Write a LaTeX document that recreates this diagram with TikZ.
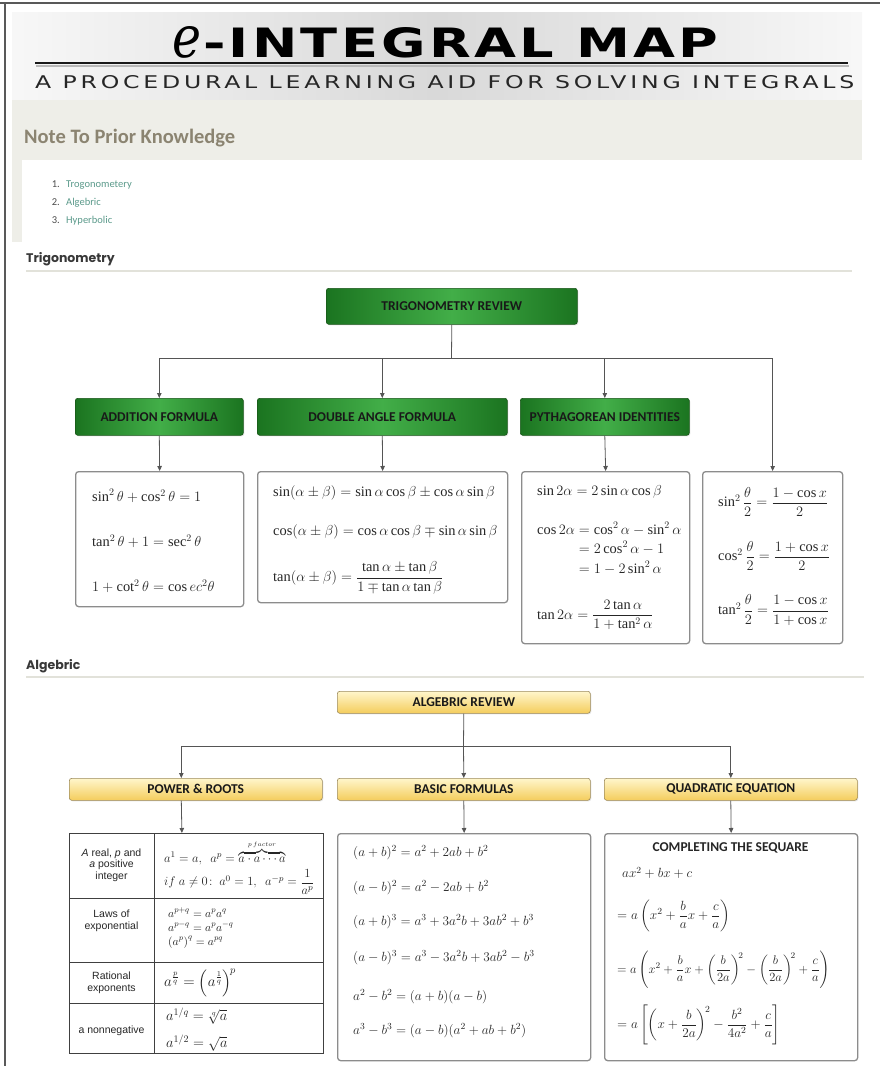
\RequirePackage{fix-cm}
\documentclass[tikz,border=0pt]{standalone}
\usepackage{amsmath,amssymb}
\usepackage{graphicx}
\usepackage{fontspec}
\setmainfont{Liberation Serif}
\newfontfamily\headfont{DejaVu Sans}
\newfontfamily\boxfont{Carlito}
\newfontfamily\secfont{Poppins}
\newfontfamily\tabfont{Liberation Sans}
\usetikzlibrary{arrows.meta,calc,positioning,shadows}

\definecolor{grdark}{HTML}{1B7420}
\definecolor{grmid}{HTML}{42AE48}
\definecolor{grline}{HTML}{185418}
\definecolor{yltop}{HTML}{FFF6CC}
\definecolor{ylbot}{HTML}{F4CD5C}
\definecolor{ylline}{HTML}{9C8A5C}
\definecolor{notegray}{HTML}{8B8471}
\definecolor{listgreen}{HTML}{5B9A8B}
\definecolor{bannergray}{HTML}{EEEEE8}
\definecolor{rulegray}{HTML}{E2E2DA}
\definecolor{boxgray}{HTML}{8C8C8C}
\definecolor{linkgray}{HTML}{555555}

\newcommand\fsz{\fontsize{14.4}{17}\selectfont}
\newcommand\tsz{\fontsize{11.5}{14}\selectfont}
\newcommand\bsz{\fontsize{13.3}{15}\selectfont}

\tikzset{
  revgreen/.style={draw=grline, line width=0.6pt, rounded corners=2.5pt,
    left color=grdark, right color=grdark, middle color=grmid,
    text=black!90, font=\boxfont\bfseries\fontsize{13.5}{15}\selectfont,
    inner sep=2pt, anchor=north west,
    drop shadow={opacity=0.2, shadow xshift=1pt, shadow yshift=-1pt}},
  revyellow/.style={draw=ylline, line width=0.6pt, rounded corners=2.5pt,
    top color=yltop, bottom color=ylbot,
    text=black!90, font=\boxfont\bfseries\fontsize{13.5}{15}\selectfont,
    inner sep=2pt, anchor=north west, minimum height=22pt,
    drop shadow={opacity=0.2, shadow xshift=1pt, shadow yshift=-1pt}},
  formbox/.style={draw=boxgray, line width=1.3pt, rounded corners=3pt,
    fill=white, anchor=north west, inner sep=0pt},
  formula/.style={anchor=west, inner sep=0pt, text=black!85, font=\fsz},
  link/.style={draw=linkgray, line width=0.8pt},
  linkarr/.style={link, -{Triangle[length=5pt,width=4.5pt]}},
  sechead/.style={anchor=base west, inner sep=0pt, text=black!78,
    font=\secfont\bfseries\fontsize{12.5}{15}\selectfont},
  secrule/.style={draw=rulegray, line width=2.5pt},
  tablabel/.style={align=center, inner sep=0pt, text=black!85,
    font=\tabfont\fontsize{10.5}{11.5}\selectfont},
  listnum/.style={anchor=base east, inner sep=0pt, text=black!70,
    font=\boxfont\fontsize{10.5}{12}\selectfont},
  listitem/.style={anchor=base west, inner sep=0pt, text=listgreen,
    font=\boxfont\fontsize{10.5}{12}\selectfont}
}

\begin{document}
\begin{tikzpicture}[x=1pt,y=-1pt]
\useasboundingbox (0,0) rectangle (880,1066);
%%%%% HEADER %%%%%
\draw[line width=2pt, black!65] (0,3) -- (880,3);
\draw[line width=2pt, black!65] (5,3) -- (5,1066);
\shade[left color=gray!6, right color=gray!6, middle color=gray!30] (12,12) rectangle (862,100);
\fill[bannergray] (12,100) rectangle (862,160);
\fill[bannergray] (12,160) rectangle (22,242);
\fill[white, rounded corners=5pt] (22,163) rectangle (880,320);

\node[anchor=base west, inner sep=0pt] (ttl) at (203,57)
  {\resizebox{515pt}{30pt}{\headfont\bfseries\addfontfeature{LetterSpace=6}-INTEGRAL MAP}};
\node[anchor=base east, inner sep=0pt] (ettl) at ([xshift=-1pt]ttl.base west)
  {\resizebox{29pt}{31pt}{\headfont ℯ}};
\draw[line width=2pt, gray!55] (36,65.5) -- (849,65.5);
\draw[line width=2.5pt, black!90] (35,63) -- (848,63);
\node[anchor=base west, inner sep=0pt, text=black!85] (subttl) at (35,88)
  {\resizebox{819pt}{13pt}{\headfont\addfontfeature{LetterSpace=16}A PROCEDURAL LEARNING AID FOR SOLVING INTEGRALS}};

\node[anchor=base west, inner sep=0pt, text=notegray, font=\boxfont\bfseries\fontsize{20.5}{24}\selectfont]
  (notehd) at (24,143) {Note To Prior Knowledge};
\node[listnum] (num1) at (60,187) {1.};
\node[listnum] (num2) at (60,205) {2.};
\node[listnum] (num3) at (60,223) {3.};
\node[listitem] (item1) at (66,187) {Trogonometery};
\node[listitem] (item2) at (66,205) {Algebric};
\node[listitem] (item3) at (66,223) {Hyperbolic};

%%%%% TRIGONOMETRY %%%%%
\node[sechead] (trighd) at (26,262) {Trigonometry};
\draw[secrule] (26,271) -- (852,271);

\node[revgreen, minimum width=251pt, minimum height=36pt] (trigrev) at (326,288) {TRIGONOMETRY REVIEW};
\node[revgreen, minimum width=168pt, minimum height=37pt] (addf) at (75,398) {ADDITION FORMULA};
\node[revgreen, minimum width=250pt, minimum height=37pt] (dblf) at (257,398) {DOUBLE ANGLE FORMULA};
\node[revgreen, minimum width=169pt, minimum height=37pt] (pyth) at (520,398) {PYTHAGOREAN IDENTITIES};

\node[formbox, minimum width=168pt, minimum height=135pt] (tbox1) at (75,471) {};
\node[formbox, minimum width=250pt, minimum height=131pt] (tbox2) at (257,471) {};
\node[formbox, minimum width=168pt, minimum height=172pt] (tbox3) at (521,471) {};
\node[formbox, minimum width=140pt, minimum height=172pt] (tbox4) at (702,471) {};

\coordinate (tsplit) at (451.5,358);
\draw[link] (trigrev.south) -- (tsplit);
\draw[linkarr] (tsplit) -| (addf.north);
\draw[linkarr] (tsplit) -| (dblf.north);
\draw[linkarr] (tsplit) -| (pyth.north);
\draw[linkarr] (tsplit) -| (tbox4.north);
\draw[linkarr] (addf.south) -- (tbox1.north);
\draw[linkarr] (dblf.south) -- (tbox2.north);
\draw[linkarr] (pyth.south) -- (tbox3.north);

% formulas in the trig boxes
\node[formula] (f11) at (92,496) {$\sin^2\theta+\cos^2\theta=1$};
\node[formula] (f12) at (92,541) {$\tan^2\theta+1=\sec^2\theta$};
\node[formula] (f13) at (92,586) {$1+\cot^2\theta=\cos ec^2\theta$};

\node[formula] (f21) at (273,493) {$\sin(\alpha\pm\beta)=\sin\alpha\cos\beta\pm\cos\alpha\sin\beta$};
\node[formula] (f22) at (273,532) {$\cos(\alpha\pm\beta)=\cos\alpha\cos\beta\mp\sin\alpha\sin\beta$};
\node[formula] (f23) at (273,578) {$\tan(\alpha\pm\beta)=\dfrac{\tan\alpha\pm\tan\beta}{1\mp\tan\alpha\tan\beta}$};

\node[formula] (f31) at (537,492) {$\sin2\alpha=2\sin\alpha\cos\beta$};
\node[formula] (f32) at (537,550) {$\begin{aligned}\cos2\alpha&=\cos^2\alpha-\sin^2\alpha\\[-2pt]&=2\cos^2\alpha-1\\[-2pt]&=1-2\sin^2\alpha\end{aligned}$};
\node[formula] (f33) at (537,615) {$\tan2\alpha=\dfrac{2\tan\alpha}{1+\tan^2\alpha}$};

\node[formula] (f41) at (718,502) {$\sin^2\dfrac{\theta}{2}=\dfrac{1-\cos x}{2}$};
\node[formula] (f42) at (718,556) {$\cos^2\dfrac{\theta}{2}=\dfrac{1+\cos x}{2}$};
\node[formula] (f43) at (718,610) {$\tan^2\dfrac{\theta}{2}=\dfrac{1-\cos x}{1+\cos x}$};

%%%%% ALGEBRIC %%%%%
\node[sechead] (alghd) at (26,669) {Algebric};
\draw[secrule] (26,677) -- (864,677);

\node[revyellow, minimum width=253pt] (algrev) at (337,691) {ALGEBRIC REVIEW};
\node[revyellow, minimum width=253pt] (powr) at (69,778) {POWER \& ROOTS};
\node[revyellow, minimum width=253pt] (basf) at (337,778) {BASIC FORMULAS};
\node[revyellow, minimum width=253pt] (quad) at (604,778) {QUADRATIC EQUATION};

\node[draw=black!75, line width=0.8pt, anchor=north west, inner sep=0pt, minimum width=254pt, minimum height=220pt] (powtab) at (69,833) {};
\node[formbox, minimum width=253pt, minimum height=227pt] (basbox) at (337,833) {};
\node[formbox, minimum width=253pt, minimum height=227pt] (quadbox) at (604,833) {};

\coordinate (asplit) at (463.5,746);
\draw[link] (algrev.south) -- (asplit);
\draw[linkarr] (asplit) -| ([xshift=-14.5pt]powr.north);
\draw[linkarr] (asplit) -- (basf.north);
\draw[linkarr] (asplit) -| (quad.north);
\draw[linkarr] ([xshift=-14.5pt]powr.south) -- ([xshift=-14.5pt]powtab.north);
\draw[linkarr] (basf.south) -- (basbox.north);
\draw[linkarr] (quad.south) -- (quadbox.north);

% power and roots table
\draw[black!75, line width=0.8pt] (154,833) -- (154,1053);
\draw[black!75, line width=0.8pt] (69,898) -- (323,898);
\draw[black!75, line width=0.8pt] (69,962) -- (323,962);
\draw[black!75, line width=0.8pt] (69,1003) -- (323,1003);

\node[tablabel] (lab1) at (111.5,865) {\textit{A} real, \textit{p} and\\\textit{a} positive\\integer};
\node[tablabel] (lab2) at (111.5,921) {Laws of\\exponential};
\node[tablabel] (lab3) at (111.5,983) {Rational\\exponents};
\node[tablabel] (lab4) at (111.5,1031) {a nonnegative};

\node[formula, font=\fontsize{12.5}{14}\selectfont] (p11) at (164,853) {$a^1=a,\ \ a^p=\overbrace{a\cdot a\cdots a}^{\scriptscriptstyle p\,factor}$};
\node[formula, font=\fontsize{12.5}{14}\selectfont] (p12) at (164,882) {$if\ a\neq0\!:\ a^0=1,\ \ a^{-p}=\dfrac{1}{a^p}$};
\node[formula, font=\tsz, align=left] (p21) at (168,928) {$a^{p+q}=a^pa^q$\\[0pt]$a^{p-q}=a^pa^{-q}$\\[0pt]$\left(a^p\right)^q=a^{pq}$};
\node[formula, font=\fontsize{15}{17}\selectfont] (p31) at (164,983) {$a^{\frac{p}{q}}=\left(a^{\frac{1}{q}}\right)^{\!p}$};
\node[formula, font=\fontsize{14.4}{17}\selectfont] (p41) at (166,1016) {$a^{1/q}=\sqrt[q]{a}$};
\node[formula, font=\fontsize{14.4}{17}\selectfont] (p42) at (166,1043) {$a^{1/2}=\sqrt{a}$};

% basic formulas
\node[formula, font=\bsz] (b1) at (353,853) {$(a+b)^2=a^2+2ab+b^2$};
\node[formula, font=\bsz] (b2) at (353,888) {$(a-b)^2=a^2-2ab+b^2$};
\node[formula, font=\bsz] (b3) at (353,922) {$(a+b)^3=a^3+3a^2b+3ab^2+b^3$};
\node[formula, font=\bsz] (b4) at (353,958) {$(a-b)^3=a^3-3a^2b+3ab^2-b^3$};
\node[formula, font=\bsz] (b5) at (353,997) {$a^2-b^2=(a+b)(a-b)$};
\node[formula, font=\bsz] (b6) at (353,1031) {$a^3-b^3=(a-b)(a^2+ab+b^2)$};

% completing the square
\node[inner sep=0pt, text=black!85, font=\boxfont\bfseries\fontsize{13.5}{15}\selectfont] (sqhd) at (730.5,848) {COMPLETING THE SEQUARE};
\node[formula, font=\bsz] (q1) at (622,873) {$ax^2+bx+c$};
\node[formula, font=\bsz] (q2) at (617,916) {$=a\left(x^2+\dfrac{b}{a}x+\dfrac{c}{a}\right)$};
\node[formula, font=\fontsize{12.5}{15}\selectfont] (q3) at (617,970) {$=a\left(x^2+\dfrac{b}{a}x+\left(\dfrac{b}{2a}\right)^{\!2}-\left(\dfrac{b}{2a}\right)^{\!2}+\dfrac{c}{a}\right)$};
\node[formula, font=\bsz] (q4) at (617,1025) {$=a\left[\left(x+\dfrac{b}{2a}\right)^{\!2}-\dfrac{b^2}{4a^2}+\dfrac{c}{a}\right]$};
\end{tikzpicture}
\end{document}
